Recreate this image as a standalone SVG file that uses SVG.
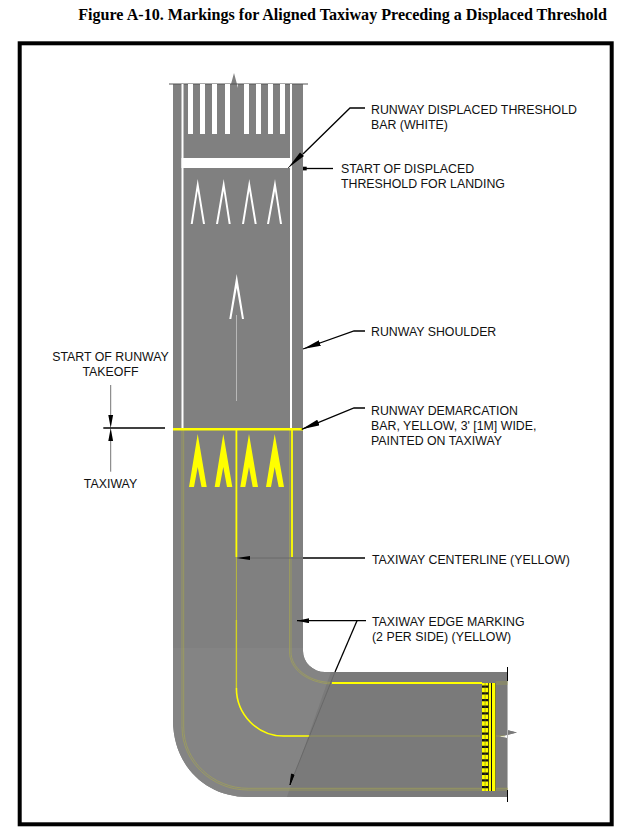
<svg xmlns="http://www.w3.org/2000/svg" width="620" height="830" viewBox="0 0 620 830">
<defs>
<marker id="a" viewBox="0 0 18 6" refX="18" refY="3" markerWidth="18" markerHeight="6" markerUnits="userSpaceOnUse" orient="auto"><path d="M0 0L18 3L0 6Z" fill="#000"/></marker>
<marker id="b" viewBox="0 0 12 5" refX="12" refY="2.500" markerWidth="12" markerHeight="5" markerUnits="userSpaceOnUse" orient="auto"><path d="M0 0L12 2.500L0 5Z" fill="#000"/></marker>
</defs>
<style>
.t{font:12.350px "Liberation Sans",Arial,sans-serif;fill:#111}
.l{stroke:#000;stroke-width:1.300;fill:none}
.g{stroke:#666;stroke-width:.9;fill:none}
.w{fill:#fff}
.y{stroke:#ffff00;fill:none}
.e{stroke:#a9a94a;stroke-width:.6;fill:none}
.c{stroke:#d2d21e;fill:none}
</style>
<rect width="620" height="830" fill="#fff"/>
<text x="607" y="20" text-anchor="end" style="font:bold 16.100px 'Liberation Serif',serif;fill:#000">Figure A-10. Markings for Aligned Taxiway Preceding a Displaced Threshold</text>
<rect x="19.700" y="43.300" width="592" height="781" fill="none" stroke="#000" stroke-width="4"/>
<g id="pavement">
<path d="M173 84H231L234 73L238 88V84H303V651A22 21 0 0 0 325 672H507V730L517 732.500L507 735L499 736.500L507 738V797H248C205 797 173 765 173 720Z" fill="#808080"/>
<path d="M173 648H303V651A22 21 0 0 0 325 672H331L287 797H248C205 797 173 765 173 720Z" fill="#848484"/>
<path d="M331 672H507V730L517 732.500L507 735L499 736.500L507 738V797H287Z" fill="#7a7a7a"/>
<path d="M169 84H308" stroke="#555" stroke-width="1"/>
<path d="M507.500 672V797" stroke="#b5b5b5" stroke-width="1"/>
</g>
<g id="runway-markings">
<rect class="w" x="181.500" y="84" width="2" height="345"/>
<rect class="w" x="290" y="84" width="2" height="345"/>
<path class="w" d="M188 84h5v50h-5zM200 84h5v50h-5zM212 84h5v50h-5zM225 84h5v50h-5zM244 84h5v50h-5zM256 84h5v50h-5zM268 84h5v50h-5zM280 84h5v50h-5z"/>
<rect class="w" x="181.500" y="158" width="110" height="10"/>
<path class="w" d="M197.700 179L205 224H203L197.700 191L192.700 224H190.700ZM223.700 179L230.700 224H228.700L223.700 191L218 224H216ZM249.300 179L256.700 224H254.700L249.300 191L244 224H242ZM275 179L282 224H280L275 191L269 224H267Z"/>
<path class="w" d="M236.700 274L244 319H242L236.700 288L231.300 319H229.300Z"/>
<rect x="236" y="315" width="1" height="86" fill="#b8b8b8"/>
</g>
<g id="taxiway-markings">
<path class="e" d="M182 430V727C182 762 212 790 248 790H482M183.700 430V727C183.700 761 213 788.300 248 788.300H482"/>
<path class="e" d="M289.500 430V652C289.500 668 306 683 332 684M291 430V652C291 667 307 682 332 682.500"/>
<path class="y" stroke-width="2" d="M332 683H482"/>
<path class="e" d="M496 682H508M496 684H508M496 788.300H508M496 790H508M496 736H505"/>
<path class="y" stroke-width="2.500" d="M173 429.300H303"/>
<path class="y" stroke-width="1.800" d="M236.400 430V557M292 430V557"/>
<path d="M236.400 557V620" stroke="#b9b93a" stroke-width="1"/>
<path class="c" stroke-width="1.400" d="M236.400 620V688"/>
<path class="y" stroke-width="1.600" d="M236.400 688A47 48 0 0 0 283.400 736H310"/>
<path class="e" d="M310 736H480"/>
<path d="M197.700 434L206.700 487H201.500L197.700 467L194 487H189ZM223.300 434L232.300 487H227L223.300 467L219.500 487H214.700ZM249 434L258 487H252.700L249 467L245.300 487H240.300ZM274.700 434L284 487H278.700L274.700 467L271 487H266Z" fill="#ffff00"/>
</g>
<g id="hold-bar">
<rect x="482" y="683" width="13.500" height="108" fill="#111"/>
<rect x="482" y="683" width="6.300" height="108" fill="#ffff00"/>
<path d="M482 683v108" transform="translate(3.150 0)" stroke="#111" stroke-width="6.300" stroke-dasharray="2.300 4.400" stroke-dashoffset="-2.500"/>
<path d="M485.100 683v108" stroke="#6a6a30" stroke-width=".5"/>
<rect x="489" y="683" width="2" height="108" fill="#ffff00"/>
<rect x="492" y="683" width="3.300" height="108" fill="#ffff00"/>
</g>
<g id="connectors">
<path d="M507.500 667V681M507.500 790V802" stroke="#000" stroke-width="1"/>
<path class="l" d="M365 108H350L303 154"/>
<path d="M303 154L288 168" stroke="#444" stroke-width=".9"/>
<path d="M300 152.500L288 168L304 156Z" fill="#000"/>
<path class="l" d="M333 168.500H305"/>
<rect x="303" y="166.700" width="3.700" height="3.700" fill="#000"/>
<path class="l" d="M365 331H354L303 349" marker-end="url(#a)"/>
<path class="l" d="M365 408H354L301.700 429.300" marker-end="url(#a)"/>
<path class="l" d="M365 558H303"/>
<path class="g" d="M303 558H240"/>
<path d="M250 556L236.500 558L250 560Z" fill="#000"/>
<path class="l" d="M366 620.700H297" marker-end="url(#b)"/>
<path class="l" d="M357 620.700L335 672"/>
<path class="g" d="M335 672L290 785"/>
<path d="M294 775L290 785L291.500 774Z" fill="#000" stroke="#000" stroke-width="1"/>
<path class="l" d="M103.300 428H165"/>
<path class="g" d="M110.700 385V415M110.700 441V471.700"/>
<path d="M108.300 415H113.100L110.700 428ZM108.300 441H113.100L110.700 428Z" fill="#000"/>
</g>
<g id="labels">
<text class="t" x="371" y="114">RUNWAY DISPLACED THRESHOLD</text>
<text class="t" x="371" y="129">BAR (WHITE)</text>
<text class="t" x="341" y="173">START OF DISPLACED</text>
<text class="t" x="341" y="188">THRESHOLD FOR LANDING</text>
<text class="t" x="371" y="336">RUNWAY SHOULDER</text>
<text class="t" x="110.500" y="361" text-anchor="middle">START OF RUNWAY</text>
<text class="t" x="110.500" y="376" text-anchor="middle">TAKEOFF</text>
<text class="t" x="110.500" y="488" text-anchor="middle">TAXIWAY</text>
<text class="t" x="371" y="415">RUNWAY DEMARCATION</text>
<text class="t" x="371" y="430">BAR, YELLOW, 3' [1M] WIDE,</text>
<text class="t" x="371" y="445">PAINTED ON TAXIWAY</text>
<text class="t" x="372" y="564">TAXIWAY CENTERLINE (YELLOW)</text>
<text class="t" x="372" y="626">TAXIWAY EDGE MARKING</text>
<text class="t" x="372" y="641">(2 PER SIDE) (YELLOW)</text>
</g>
</svg>
